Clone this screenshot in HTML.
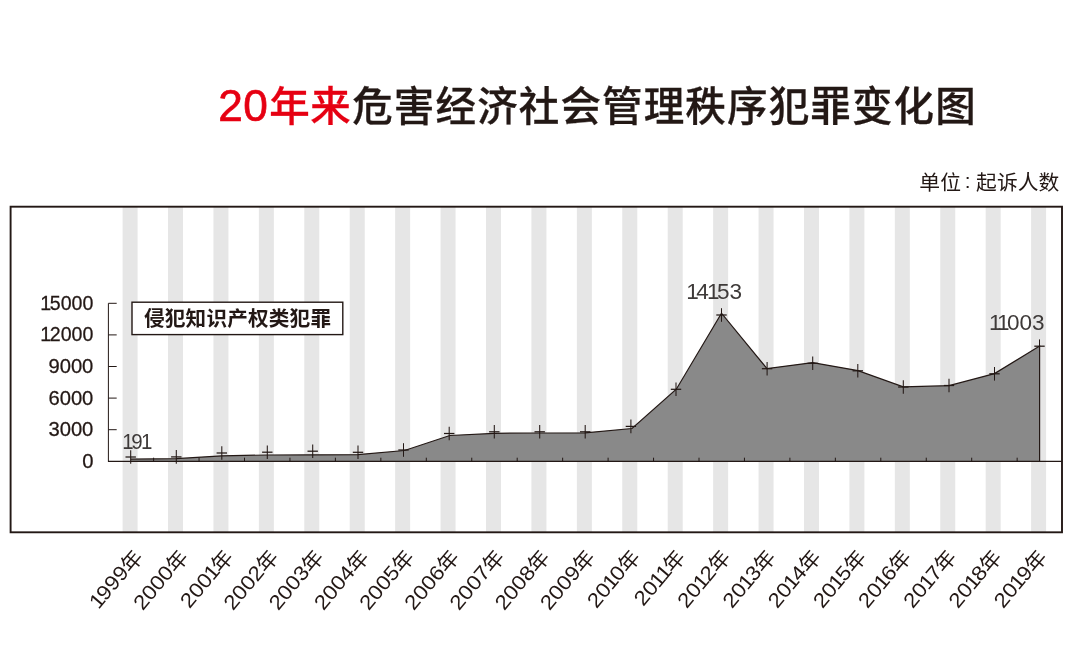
<!DOCTYPE html>
<html lang="zh-CN"><head><meta charset="utf-8"><title>20年来危害经济社会管理秩序犯罪变化图</title>
<style>html,body{margin:0;padding:0;background:#fff}body{width:1080px;height:656px;overflow:hidden}svg{display:block}text{font-family:"Liberation Sans", "Noto Sans CJK SC", sans-serif;}</style></head><body>
<svg width="1080" height="656" viewBox="0 0 1080 656">
<rect width="1080" height="656" fill="#fff"/>
<g fill="#e6e6e6">
<rect x="122.60" y="206.7" width="15" height="325.6"/>
<rect x="168.02" y="206.7" width="15" height="325.6"/>
<rect x="213.45" y="206.7" width="15" height="325.6"/>
<rect x="258.88" y="206.7" width="15" height="325.6"/>
<rect x="304.30" y="206.7" width="15" height="325.6"/>
<rect x="349.73" y="206.7" width="15" height="325.6"/>
<rect x="395.15" y="206.7" width="15" height="325.6"/>
<rect x="440.57" y="206.7" width="15" height="325.6"/>
<rect x="486.00" y="206.7" width="15" height="325.6"/>
<rect x="531.42" y="206.7" width="15" height="325.6"/>
<rect x="576.85" y="206.7" width="15" height="325.6"/>
<rect x="622.27" y="206.7" width="15" height="325.6"/>
<rect x="667.70" y="206.7" width="15" height="325.6"/>
<rect x="713.12" y="206.7" width="15" height="325.6"/>
<rect x="758.55" y="206.7" width="15" height="325.6"/>
<rect x="803.98" y="206.7" width="15" height="325.6"/>
<rect x="849.40" y="206.7" width="15" height="325.6"/>
<rect x="894.82" y="206.7" width="15" height="325.6"/>
<rect x="940.25" y="206.7" width="15" height="325.6"/>
<rect x="985.67" y="206.7" width="15" height="325.6"/>
<rect x="1031.10" y="206.7" width="15" height="325.6"/>
</g>
<polygon points="130.7,461.3 130.7,459.2 176.3,458.7 221.8,455.8 267.3,455.0 312.7,454.8 358.0,454.6 404.5,450.5 449.8,435.5 494.3,433.3 539.7,433.0 585.2,432.8 632.0,428.5 676.3,389.2 721.5,313.2 767.0,368.6 812.7,362.6 858.0,370.6 903.3,386.9 949.0,385.7 994.5,373.6 1039.6,346.0 1039.6,461.3" fill="#898989"/>
<polyline points="130.7,459.2 176.3,458.7 221.8,455.8 267.3,455.0 312.7,454.8 358.0,454.6 404.5,450.5 449.8,435.5 494.3,433.3 539.7,433.0 585.2,432.8 632.0,428.5 676.3,389.2 721.5,313.2 767.0,368.6 812.7,362.6 858.0,370.6 903.3,386.9 949.0,385.7 994.5,373.6 1039.6,346.0 1039.6,461.3" fill="none" stroke="#231815" stroke-width="1.2" stroke-linejoin="miter"/>
<g stroke="#231815" stroke-width="1" fill="none">
<path d="M116.7 303.3H108.4V461.3"/>
<path d="M108.4 334.9h8.3"/>
<path d="M108.4 366.5h8.3"/>
<path d="M108.4 398.1h8.3"/>
<path d="M108.4 429.7h8.3"/>
<path d="M107.95 461.3H1062.0" stroke-width="1.25"/>
<path d="M153.60 461.3v-3.6"/>
<path d="M199.05 461.3v-3.6"/>
<path d="M244.50 461.3v-3.6"/>
<path d="M289.95 461.3v-3.6"/>
<path d="M335.40 461.3v-3.6"/>
<path d="M380.85 461.3v-3.6"/>
<path d="M426.30 461.3v-3.6"/>
<path d="M471.75 461.3v-3.6"/>
<path d="M517.20 461.3v-3.6"/>
<path d="M562.65 461.3v-3.6"/>
<path d="M608.10 461.3v-3.6"/>
<path d="M653.55 461.3v-3.6"/>
<path d="M699.00 461.3v-3.6"/>
<path d="M744.45 461.3v-3.6"/>
<path d="M789.90 461.3v-3.6"/>
<path d="M835.35 461.3v-3.6"/>
<path d="M880.80 461.3v-3.6"/>
<path d="M926.25 461.3v-3.6"/>
<path d="M971.70 461.3v-3.6"/>
<path d="M1017.15 461.3v-3.6"/>
<path d="M125.5 457.0h10.4" stroke-width="1.25"/><path d="M130.7 450.2v13.6" stroke-width="1.05"/>
<path d="M171.1 456.9h10.4" stroke-width="1.25"/><path d="M176.3 450.1v13.6" stroke-width="1.05"/>
<path d="M216.6 453.0h10.4" stroke-width="1.25"/><path d="M221.8 446.2v13.6" stroke-width="1.05"/>
<path d="M262.1 452.2h10.4" stroke-width="1.25"/><path d="M267.3 445.4v13.6" stroke-width="1.05"/>
<path d="M307.5 451.2h10.4" stroke-width="1.25"/><path d="M312.7 444.4v13.6" stroke-width="1.05"/>
<path d="M352.8 452.3h10.4" stroke-width="1.25"/><path d="M358.0 445.5v13.6" stroke-width="1.05"/>
<path d="M398.3 450.0h10.4" stroke-width="1.25"/><path d="M403.5 443.2v13.6" stroke-width="1.05"/>
<path d="M444.0 433.5h10.4" stroke-width="1.25"/><path d="M449.2 426.7v13.6" stroke-width="1.05"/>
<path d="M489.1 431.8h10.4" stroke-width="1.25"/><path d="M494.3 425.0v13.6" stroke-width="1.05"/>
<path d="M534.5 431.8h10.4" stroke-width="1.25"/><path d="M539.7 425.0v13.6" stroke-width="1.05"/>
<path d="M580.0 431.8h10.4" stroke-width="1.25"/><path d="M585.2 425.0v13.6" stroke-width="1.05"/>
<path d="M625.7 426.4h10.4" stroke-width="1.25"/><path d="M630.9 419.6v13.6" stroke-width="1.05"/>
<path d="M670.8 389.3h10.4" stroke-width="1.25"/><path d="M676.0 382.5v13.6" stroke-width="1.05"/>
<path d="M716.3 315.0h10.4" stroke-width="1.25"/><path d="M721.5 308.2v13.6" stroke-width="1.05"/>
<path d="M761.9 368.7h10.4" stroke-width="1.25"/><path d="M767.1 361.9v13.6" stroke-width="1.05"/>
<path d="M807.5 363.3h10.4" stroke-width="1.25"/><path d="M812.7 356.5v13.6" stroke-width="1.05"/>
<path d="M852.6 370.8h10.4" stroke-width="1.25"/><path d="M857.8 364.0v13.6" stroke-width="1.05"/>
<path d="M898.1 387.0h10.4" stroke-width="1.25"/><path d="M903.3 380.2v13.6" stroke-width="1.05"/>
<path d="M943.8 385.5h10.4" stroke-width="1.25"/><path d="M949.0 378.7v13.6" stroke-width="1.05"/>
<path d="M989.3 373.8h10.4" stroke-width="1.25"/><path d="M994.5 367.0v13.6" stroke-width="1.05"/>
<path d="M1034.3 346.2h10.4" stroke-width="1.25"/><path d="M1039.5 339.4v13.6" stroke-width="1.05"/>
</g>
<rect x="10.6" y="206.7" width="1051.4" height="325.6" fill="none" stroke="#231815" stroke-width="1.9"/>
<rect x="132.0" y="302.2" width="210.8" height="32.4" fill="#fff" stroke="#231815" stroke-width="1.4"/>
<text x="144" y="325.6" font-size="20.6" font-weight="700" fill="#231815" textLength="187" lengthAdjust="spacing">侵犯知识产权类犯罪</text>
<text transform="translate(41.19 309.75) scale(1.0161 1)" x="-0.97 8.42 19.15 29.89 40.62" y="0" font-size="19.3" fill="#231815" stroke="#231815" stroke-width="0.25">15000</text>
<text transform="translate(41.19 341.35) scale(1.0161 1)" x="-0.97 8.42 19.15 29.89 40.62" y="0" font-size="19.3" fill="#231815" stroke="#231815" stroke-width="0.25">12000</text>
<text transform="translate(48.39 372.95) scale(1.048 1)" x="0.00 10.73 21.47 32.20" y="0" font-size="19.3" fill="#231815" stroke="#231815" stroke-width="0.25">9000</text>
<text transform="translate(48.39 404.55) scale(1.048 1)" x="0.00 10.73 21.47 32.20" y="0" font-size="19.3" fill="#231815" stroke="#231815" stroke-width="0.25">6000</text>
<text transform="translate(48.39 436.15) scale(1.048 1)" x="0.00 10.73 21.47 32.20" y="0" font-size="19.3" fill="#231815" stroke="#231815" stroke-width="0.25">3000</text>
<text transform="translate(82.14 467.75) scale(1.048 1)" x="0.00" y="0" font-size="19.3" fill="#231815" stroke="#231815" stroke-width="0.25">0</text>
<text transform="translate(124.08 448.60) scale(0.9221 1)" x="-2.00 7.91 18.26" y="0" font-size="22.2" fill="#3e3a39" >191</text>
<text transform="translate(688.31 299.10) scale(1.0175 1)" x="-2.00 7.91 18.26 28.16 40.51" y="0" font-size="22.2" fill="#3e3a39" >14153</text>
<text transform="translate(990.91 329.60) scale(1.0156 1)" x="-2.00 5.91 15.81 28.16 40.51" y="0" font-size="22.2" fill="#3e3a39" >11003</text>
<text y="121.4" font-size="40.5" font-weight="500" fill="#231815" stroke="#231815" stroke-width="0.3"><tspan x="218.34 243.35" y="121.3" font-size="44.2" font-weight="400" fill="#e60012" stroke="#e60012" stroke-width="0.7">20</tspan><tspan x="269.3" y="121.4" fill="#e60012" stroke="#e60012" textLength="81.5" lengthAdjust="spacing">年来</tspan><tspan x="352.2" textLength="623.5" lengthAdjust="spacing">危害经济社会管理秩序犯罪变化图</tspan></text>
<text font-size="20.8" fill="#231815" x="919.3 940.2 961 964.7 970 976.1 996.9 1017.7 1038.5" y="189.7 189.7 189.7 188.4 189.7 189.7 189.7 189.7 189.7">单位 : 起诉人数</text>
<g transform="translate(97.50 611.20) rotate(-50) translate(2.64 0)"><text transform="scale(1.1 1)" x="-1.03 8.94 20.34 31.74" y="0" font-size="20.5" fill="#231815">1999</text><text x="47.26" y="1.5" font-size="21.0" fill="#231815">年</text></g>
<g transform="translate(142.70 611.20) rotate(-50) translate(-0.06 0)"><text transform="scale(1.1 1)" x="0.00 11.40 22.80 34.20" y="0" font-size="20.5" fill="#231815">2000</text><text x="49.96" y="1.5" font-size="21.0" fill="#231815">年</text></g>
<g transform="translate(187.90 611.20) rotate(-50) translate(2.64 0)"><text transform="scale(1.1 1)" x="0.00 11.40 22.80 33.18" y="0" font-size="20.5" fill="#231815">2001</text><text x="47.26" y="1.5" font-size="21.0" fill="#231815">年</text></g>
<g transform="translate(233.10 611.20) rotate(-50) translate(-0.06 0)"><text transform="scale(1.1 1)" x="0.00 11.40 22.80 34.20" y="0" font-size="20.5" fill="#231815">2002</text><text x="49.96" y="1.5" font-size="21.0" fill="#231815">年</text></g>
<g transform="translate(278.30 611.20) rotate(-50) translate(-0.06 0)"><text transform="scale(1.1 1)" x="0.00 11.40 22.80 34.20" y="0" font-size="20.5" fill="#231815">2003</text><text x="49.96" y="1.5" font-size="21.0" fill="#231815">年</text></g>
<g transform="translate(323.50 611.20) rotate(-50) translate(-0.06 0)"><text transform="scale(1.1 1)" x="0.00 11.40 22.80 34.20" y="0" font-size="20.5" fill="#231815">2004</text><text x="49.96" y="1.5" font-size="21.0" fill="#231815">年</text></g>
<g transform="translate(368.70 611.20) rotate(-50) translate(-0.06 0)"><text transform="scale(1.1 1)" x="0.00 11.40 22.80 34.20" y="0" font-size="20.5" fill="#231815">2005</text><text x="49.96" y="1.5" font-size="21.0" fill="#231815">年</text></g>
<g transform="translate(413.90 611.20) rotate(-50) translate(-0.06 0)"><text transform="scale(1.1 1)" x="0.00 11.40 22.80 34.20" y="0" font-size="20.5" fill="#231815">2006</text><text x="49.96" y="1.5" font-size="21.0" fill="#231815">年</text></g>
<g transform="translate(459.10 611.20) rotate(-50) translate(-0.06 0)"><text transform="scale(1.1 1)" x="0.00 11.40 22.80 34.20" y="0" font-size="20.5" fill="#231815">2007</text><text x="49.96" y="1.5" font-size="21.0" fill="#231815">年</text></g>
<g transform="translate(504.30 611.20) rotate(-50) translate(-0.06 0)"><text transform="scale(1.1 1)" x="0.00 11.40 22.80 34.20" y="0" font-size="20.5" fill="#231815">2008</text><text x="49.96" y="1.5" font-size="21.0" fill="#231815">年</text></g>
<g transform="translate(549.50 611.20) rotate(-50) translate(-0.06 0)"><text transform="scale(1.1 1)" x="0.00 11.40 22.80 34.20" y="0" font-size="20.5" fill="#231815">2009</text><text x="49.96" y="1.5" font-size="21.0" fill="#231815">年</text></g>
<g transform="translate(594.70 611.20) rotate(-50) translate(2.64 0)"><text transform="scale(1.1 1)" x="0.00 11.40 21.78 31.74" y="0" font-size="20.5" fill="#231815">2010</text><text x="47.26" y="1.5" font-size="21.0" fill="#231815">年</text></g>
<g transform="translate(639.90 611.20) rotate(-50) translate(5.35 0)"><text transform="scale(1.1 1)" x="0.00 11.40 21.78 30.72" y="0" font-size="20.5" fill="#231815">2011</text><text x="44.55" y="1.5" font-size="21.0" fill="#231815">年</text></g>
<g transform="translate(685.10 611.20) rotate(-50) translate(2.64 0)"><text transform="scale(1.1 1)" x="0.00 11.40 21.78 31.74" y="0" font-size="20.5" fill="#231815">2012</text><text x="47.26" y="1.5" font-size="21.0" fill="#231815">年</text></g>
<g transform="translate(730.30 611.20) rotate(-50) translate(2.64 0)"><text transform="scale(1.1 1)" x="0.00 11.40 21.78 31.74" y="0" font-size="20.5" fill="#231815">2013</text><text x="47.26" y="1.5" font-size="21.0" fill="#231815">年</text></g>
<g transform="translate(775.50 611.20) rotate(-50) translate(2.64 0)"><text transform="scale(1.1 1)" x="0.00 11.40 21.78 31.74" y="0" font-size="20.5" fill="#231815">2014</text><text x="47.26" y="1.5" font-size="21.0" fill="#231815">年</text></g>
<g transform="translate(820.70 611.20) rotate(-50) translate(2.64 0)"><text transform="scale(1.1 1)" x="0.00 11.40 21.78 31.74" y="0" font-size="20.5" fill="#231815">2015</text><text x="47.26" y="1.5" font-size="21.0" fill="#231815">年</text></g>
<g transform="translate(865.90 611.20) rotate(-50) translate(2.64 0)"><text transform="scale(1.1 1)" x="0.00 11.40 21.78 31.74" y="0" font-size="20.5" fill="#231815">2016</text><text x="47.26" y="1.5" font-size="21.0" fill="#231815">年</text></g>
<g transform="translate(911.10 611.20) rotate(-50) translate(2.64 0)"><text transform="scale(1.1 1)" x="0.00 11.40 21.78 31.74" y="0" font-size="20.5" fill="#231815">2017</text><text x="47.26" y="1.5" font-size="21.0" fill="#231815">年</text></g>
<g transform="translate(956.30 611.20) rotate(-50) translate(2.64 0)"><text transform="scale(1.1 1)" x="0.00 11.40 21.78 31.74" y="0" font-size="20.5" fill="#231815">2018</text><text x="47.26" y="1.5" font-size="21.0" fill="#231815">年</text></g>
<g transform="translate(1001.50 611.20) rotate(-50) translate(2.64 0)"><text transform="scale(1.1 1)" x="0.00 11.40 21.78 31.74" y="0" font-size="20.5" fill="#231815">2019</text><text x="47.26" y="1.5" font-size="21.0" fill="#231815">年</text></g>
</svg></body></html>
